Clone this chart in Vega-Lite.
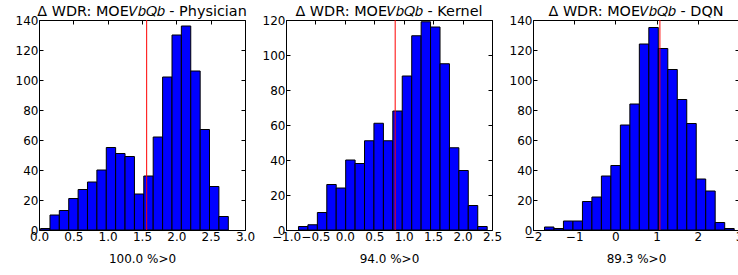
{
  "$schema": "https://vega.github.io/schema/vega-lite/v6.json",
  "autosize": "none",
  "padding": {"left": 39, "top": 20, "right": 699, "bottom": 255},
  "background": "white",
  "bounds": "flush",
  "spacing": 41,
  "datasets": {
    "hist": [
      {"panel": "Physician", "start": 0.023, "end": 0.160, "count": 1},
      {"panel": "Physician", "start": 0.160, "end": 0.296, "count": 10},
      {"panel": "Physician", "start": 0.296, "end": 0.433, "count": 13},
      {"panel": "Physician", "start": 0.433, "end": 0.570, "count": 21},
      {"panel": "Physician", "start": 0.570, "end": 0.706, "count": 27},
      {"panel": "Physician", "start": 0.706, "end": 0.843, "count": 32},
      {"panel": "Physician", "start": 0.843, "end": 0.980, "count": 40},
      {"panel": "Physician", "start": 0.980, "end": 1.116, "count": 55},
      {"panel": "Physician", "start": 1.116, "end": 1.253, "count": 51},
      {"panel": "Physician", "start": 1.253, "end": 1.390, "count": 49},
      {"panel": "Physician", "start": 1.390, "end": 1.526, "count": 24},
      {"panel": "Physician", "start": 1.526, "end": 1.663, "count": 36},
      {"panel": "Physician", "start": 1.663, "end": 1.800, "count": 62},
      {"panel": "Physician", "start": 1.800, "end": 1.937, "count": 102},
      {"panel": "Physician", "start": 1.937, "end": 2.073, "count": 130},
      {"panel": "Physician", "start": 2.073, "end": 2.210, "count": 136},
      {"panel": "Physician", "start": 2.210, "end": 2.347, "count": 106},
      {"panel": "Physician", "start": 2.347, "end": 2.483, "count": 67},
      {"panel": "Physician", "start": 2.483, "end": 2.620, "count": 29},
      {"panel": "Physician", "start": 2.620, "end": 2.757, "count": 9},
      {"panel": "Kernel", "start": -0.788, "end": -0.628, "count": 2},
      {"panel": "Kernel", "start": -0.628, "end": -0.467, "count": 3},
      {"panel": "Kernel", "start": -0.467, "end": -0.307, "count": 10},
      {"panel": "Kernel", "start": -0.307, "end": -0.147, "count": 26},
      {"panel": "Kernel", "start": -0.147, "end": 0.014, "count": 24},
      {"panel": "Kernel", "start": 0.014, "end": 0.174, "count": 40},
      {"panel": "Kernel", "start": 0.174, "end": 0.334, "count": 38},
      {"panel": "Kernel", "start": 0.334, "end": 0.494, "count": 51},
      {"panel": "Kernel", "start": 0.494, "end": 0.655, "count": 61},
      {"panel": "Kernel", "start": 0.655, "end": 0.815, "count": 51},
      {"panel": "Kernel", "start": 0.815, "end": 0.975, "count": 68},
      {"panel": "Kernel", "start": 0.975, "end": 1.136, "count": 88},
      {"panel": "Kernel", "start": 1.136, "end": 1.296, "count": 111},
      {"panel": "Kernel", "start": 1.296, "end": 1.456, "count": 119},
      {"panel": "Kernel", "start": 1.456, "end": 1.617, "count": 116},
      {"panel": "Kernel", "start": 1.617, "end": 1.777, "count": 95},
      {"panel": "Kernel", "start": 1.777, "end": 1.937, "count": 47},
      {"panel": "Kernel", "start": 1.937, "end": 2.097, "count": 34},
      {"panel": "Kernel", "start": 2.097, "end": 2.258, "count": 14},
      {"panel": "Kernel", "start": 2.258, "end": 2.418, "count": 2},
      {"panel": "DQN", "start": -1.721, "end": -1.491, "count": 2},
      {"panel": "DQN", "start": -1.491, "end": -1.261, "count": 1},
      {"panel": "DQN", "start": -1.261, "end": -1.030, "count": 6},
      {"panel": "DQN", "start": -1.030, "end": -0.800, "count": 6},
      {"panel": "DQN", "start": -0.800, "end": -0.570, "count": 19},
      {"panel": "DQN", "start": -0.570, "end": -0.340, "count": 22},
      {"panel": "DQN", "start": -0.340, "end": -0.110, "count": 36},
      {"panel": "DQN", "start": -0.110, "end": 0.121, "count": 43},
      {"panel": "DQN", "start": 0.121, "end": 0.351, "count": 70},
      {"panel": "DQN", "start": 0.351, "end": 0.581, "count": 84},
      {"panel": "DQN", "start": 0.581, "end": 0.811, "count": 124},
      {"panel": "DQN", "start": 0.811, "end": 1.041, "count": 135},
      {"panel": "DQN", "start": 1.041, "end": 1.272, "count": 121},
      {"panel": "DQN", "start": 1.272, "end": 1.502, "count": 107},
      {"panel": "DQN", "start": 1.502, "end": 1.732, "count": 87},
      {"panel": "DQN", "start": 1.732, "end": 1.962, "count": 71},
      {"panel": "DQN", "start": 1.962, "end": 2.192, "count": 34},
      {"panel": "DQN", "start": 2.192, "end": 2.422, "count": 26},
      {"panel": "DQN", "start": 2.422, "end": 2.653, "count": 5},
      {"panel": "DQN", "start": 2.653, "end": 2.883, "count": 1}
    ],
    "lines": [
      {"panel": "Physician", "value": 1.568},
      {"panel": "Kernel", "value": 0.855},
      {"panel": "DQN", "value": 1.08}
    ]
  },
  "hconcat": [
    {
      "width": 206, "height": 210,
      "title": {"text": "Δ WDR: MOE𝑉𝑏𝑄𝑏 - Physician"},
      "layer": [
        {
          "data": {"name": "hist"},
          "transform": [{"filter": "datum.panel === 'Physician'"}],
          "mark": {"type": "rect", "fill": "#0000ff", "stroke": "#000000", "strokeWidth": 1},
          "encoding": {
            "x": {"field": "start", "type": "quantitative", "scale": {"domain": [0, 3], "nice": false, "zero": false},
                  "axis": {"orient": "bottom", "title": "100.0 %>0", "values": [0, 0.5, 1, 1.5, 2, 2.5, 3], "format": ".1f"}},
            "x2": {"field": "end"},
            "y": {"field": "count", "type": "quantitative", "scale": {"domain": [0, 140], "nice": false},
                  "axis": {"orient": "left", "title": null, "values": [0, 20, 40, 60, 80, 100, 120, 140]}},
            "y2": {"datum": 0}
          }
        },
        {
          "data": {"name": "lines"},
          "transform": [{"filter": "datum.panel === 'Physician'"}],
          "mark": {"type": "rule", "color": "#ff0000", "strokeWidth": 1},
          "encoding": {
            "x": {"field": "value", "type": "quantitative", "scale": {"domain": [0, 3], "nice": false, "zero": false},
                  "axis": {"orient": "top", "title": null, "labels": false, "values": [0, 0.5, 1, 1.5, 2, 2.5, 3]}}
          }
        },
        {
          "data": {"name": "hist"},
          "transform": [{"filter": "datum.panel === 'Physician'"}],
          "mark": {"type": "rect", "opacity": 0},
          "encoding": {
            "x": {"field": "start", "type": "quantitative", "scale": {"domain": [0, 3], "nice": false, "zero": false}, "axis": null},
            "x2": {"field": "end"},
            "y": {"field": "count", "type": "quantitative", "scale": {"domain": [0, 140], "nice": false},
                  "axis": {"orient": "right", "title": null, "labels": false, "values": [0, 20, 40, 60, 80, 100, 120, 140]}},
            "y2": {"datum": 0}
          }
        }
      ],
      "resolve": {"axis": {"x": "independent", "y": "independent"}}
    },
    {
      "width": 206, "height": 210,
      "title": {"text": "Δ WDR: MOE𝑉𝑏𝑄𝑏 - Kernel"},
      "layer": [
        {
          "data": {"name": "hist"},
          "transform": [{"filter": "datum.panel === 'Kernel'"}],
          "mark": {"type": "rect", "fill": "#0000ff", "stroke": "#000000", "strokeWidth": 1},
          "encoding": {
            "x": {"field": "start", "type": "quantitative", "scale": {"domain": [-1, 2.5], "nice": false, "zero": false},
                  "axis": {"orient": "bottom", "title": "94.0 %>0", "values": [-1, -0.5, 0, 0.5, 1, 1.5, 2, 2.5], "format": ".1f"}},
            "x2": {"field": "end"},
            "y": {"field": "count", "type": "quantitative", "scale": {"domain": [0, 120], "nice": false},
                  "axis": {"orient": "left", "title": null, "values": [0, 20, 40, 60, 80, 100, 120]}},
            "y2": {"datum": 0}
          }
        },
        {
          "data": {"name": "lines"},
          "transform": [{"filter": "datum.panel === 'Kernel'"}],
          "mark": {"type": "rule", "color": "#ff0000", "strokeWidth": 1},
          "encoding": {
            "x": {"field": "value", "type": "quantitative", "scale": {"domain": [-1, 2.5], "nice": false, "zero": false},
                  "axis": {"orient": "top", "title": null, "labels": false, "values": [-1, -0.5, 0, 0.5, 1, 1.5, 2, 2.5]}}
          }
        },
        {
          "data": {"name": "hist"},
          "transform": [{"filter": "datum.panel === 'Kernel'"}],
          "mark": {"type": "rect", "opacity": 0},
          "encoding": {
            "x": {"field": "start", "type": "quantitative", "scale": {"domain": [-1, 2.5], "nice": false, "zero": false}, "axis": null},
            "x2": {"field": "end"},
            "y": {"field": "count", "type": "quantitative", "scale": {"domain": [0, 120], "nice": false},
                  "axis": {"orient": "right", "title": null, "labels": false, "values": [0, 20, 40, 60, 80, 100, 120]}},
            "y2": {"datum": 0}
          }
        }
      ],
      "resolve": {"axis": {"x": "independent", "y": "independent"}}
    },
    {
      "width": 206, "height": 210,
      "title": {"text": "Δ WDR: MOE𝑉𝑏𝑄𝑏 - DQN"},
      "layer": [
        {
          "data": {"name": "hist"},
          "transform": [{"filter": "datum.panel === 'DQN'"}],
          "mark": {"type": "rect", "fill": "#0000ff", "stroke": "#000000", "strokeWidth": 1},
          "encoding": {
            "x": {"field": "start", "type": "quantitative", "scale": {"domain": [-2, 3], "nice": false, "zero": false},
                  "axis": {"orient": "bottom", "title": "89.3 %>0", "values": [-2, -1, 0, 1, 2, 3], "format": "d"}},
            "x2": {"field": "end"},
            "y": {"field": "count", "type": "quantitative", "scale": {"domain": [0, 140], "nice": false},
                  "axis": {"orient": "left", "title": null, "values": [0, 20, 40, 60, 80, 100, 120, 140]}},
            "y2": {"datum": 0}
          }
        },
        {
          "data": {"name": "lines"},
          "transform": [{"filter": "datum.panel === 'DQN'"}],
          "mark": {"type": "rule", "color": "#ff0000", "strokeWidth": 1},
          "encoding": {
            "x": {"field": "value", "type": "quantitative", "scale": {"domain": [-2, 3], "nice": false, "zero": false},
                  "axis": {"orient": "top", "title": null, "labels": false, "values": [-2, -1, 0, 1, 2, 3]}}
          }
        },
        {
          "data": {"name": "hist"},
          "transform": [{"filter": "datum.panel === 'DQN'"}],
          "mark": {"type": "rect", "opacity": 0},
          "encoding": {
            "x": {"field": "start", "type": "quantitative", "scale": {"domain": [-2, 3], "nice": false, "zero": false}, "axis": null},
            "x2": {"field": "end"},
            "y": {"field": "count", "type": "quantitative", "scale": {"domain": [0, 140], "nice": false},
                  "axis": {"orient": "right", "title": null, "labels": false, "values": [0, 20, 40, 60, 80, 100, 120, 140]}},
            "y2": {"datum": 0}
          }
        }
      ],
      "resolve": {"axis": {"x": "independent", "y": "independent"}}
    }
  ],
  "config": {
    "view": {"stroke": "#000000", "strokeWidth": 1},
    "font": "DejaVu Sans",
    "title": {"font": "DejaVu Sans", "fontSize": 14.4, "fontWeight": "normal", "color": "#000000", "anchor": "middle", "baseline": "alphabetic", "offset": -5},
    "axis": {
      "domain": false, "grid": false, "ticks": true, "tickSize": -4, "tickColor": "#000000", "tickWidth": 1,
      "labelFont": "DejaVu Sans", "labelFontSize": 12, "labelColor": "#000000",
      "labelFlush": false, "labelOverlap": false, "labelPadding": 5,
      "titleFont": "DejaVu Sans", "titleFontSize": 12, "titleFontWeight": "normal", "titleColor": "#000000", "titlePadding": 11
    }
  }
}
